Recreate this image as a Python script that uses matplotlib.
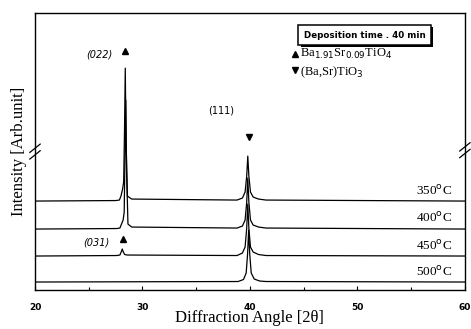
import numpy as np
import matplotlib
matplotlib.use("Agg")
from matplotlib import pyplot as plt
from matplotlib.ticker import MultipleLocator
import matplotlib.patheffects as pe

# titik-titik kurva XRD yang dibaca dari gambar (2theta, intensitas)
temps = ["350$^{\\rm o}$C", "400$^{\\rm o}$C", "450$^{\\rm o}$C", "500$^{\\rm o}$C"]

x_350 = [20, 27.5, 27.85, 28.0, 28.15, 28.25, 28.33, 28.4, 28.47, 28.6, 29.0, 38.8, 39.3, 39.55, 39.7, 39.8, 39.9, 40.05, 40.3, 40.8, 41.5, 60]
y_350 = [89, 89.5, 90, 94, 101, 108, 160, 222, 150, 94, 91, 90, 92, 98, 114, 134, 114, 98, 93, 91, 90, 89]

x_400 = [20, 27.6, 27.9, 28.05, 28.2, 28.3, 28.38, 28.45, 28.52, 28.65, 29.0, 38.8, 39.3, 39.55, 39.7, 39.8, 39.9, 40.05, 40.3, 40.8, 41.5, 60]
y_400 = [61, 61.5, 62, 66, 70, 78, 140, 190, 120, 66, 63, 62, 64, 70, 88, 112, 88, 70, 65, 63, 62, 61]

x_450 = [20, 27.6, 27.9, 28.02, 28.12, 28.22, 28.35, 28.6, 38.8, 39.3, 39.55, 39.7, 39.8, 39.9, 40.05, 40.3, 40.8, 41.5, 60]
y_450 = [34, 34.5, 35, 38, 41, 38, 35.5, 35, 34.5, 37, 43, 62, 86, 62, 43, 38, 35.5, 34.5, 34]

x_500 = [20, 38.9, 39.4, 39.65, 39.78, 39.88, 39.98, 40.12, 40.4, 40.9, 41.5, 60]
y_500 = [8, 8.5, 10.5, 17, 36, 60, 36, 17, 11, 9, 8.5, 8]

xs = [x_350, x_400, x_450, x_500]
ys = [y_350, y_400, y_450, y_500]
baseline = [89, 62, 34, 8]

fig = plt.figure(figsize=(4.71, 3.29), dpi=100)
ax = fig.add_axes([0.0743, 0.1185, 0.9127, 0.8415])

for i in range(4):
    ax.plot(xs[i], ys[i], color="black", lw=0.9)
    ax.text(57.1, baseline[i] + 3.5, temps[i], family="Liberation Serif",
            fontsize=9.5, ha="center", va="bottom")

ax.set_xlim(20, 60)
ax.set_ylim(0, 277)
ax.set_yticks([])
ax.xaxis.set_major_locator(MultipleLocator(10))
ax.xaxis.set_minor_locator(MultipleLocator(5))
ax.tick_params(axis="x", direction="in", length=3, width=0.8, labelsize=6.5, pad=9)
ax.tick_params(axis="x", which="minor", direction="in", length=2, width=0.8)
for lab in ax.get_xticklabels():
    lab.set_fontweight("bold")
for sp in ax.spines.values():
    sp.set_linewidth(1.0)

ax.set_xlabel("Diffraction Angle [2\u03b8]", family="Liberation Serif", fontsize=12, labelpad=-1)
ax.set_ylabel("Intensity [Arb.unit]", family="Liberation Serif", fontsize=12, labelpad=6)

# tanda putus sumbu (//)
for xa, ya in [(0.0, 0.50), (1.0, 0.505)]:
    for dy in [-0.012, 0.012]:
        ax.plot([xa - 0.012, xa + 0.012], [ya + dy - 0.015, ya + dy + 0.015],
                transform=ax.transAxes, color="black", lw=0.9, clip_on=False)

# anotasi puncak
ax.text(26.0, 236, "(022)", fontsize=7, style="italic", ha="center", va="center")
ax.plot(28.4, 239, marker="^", color="black", ms=4.5)
ax.text(37.3, 180, "(111)", fontsize=7, ha="center", va="center")
ax.plot(39.9, 153, marker="v", color="black", ms=4.5)
ax.text(25.7, 48, "(031)", fontsize=7, style="italic", ha="center", va="center")
ax.plot(28.2, 51, marker="^", color="black", ms=4.5)

# kotak keterangan (dengan bayangan)
t = ax.text(45.0, 255, "Deposition time . 40 min", fontsize=6.3, fontweight="bold",
            ha="left", va="center",
            bbox=dict(boxstyle="square,pad=0.6", fc="white", ec="black", lw=1.1))
t.get_bbox_patch().set_path_effects([
    pe.SimplePatchShadow(offset=(1.5, -1.5), shadow_rgbFace="black", alpha=1.0),
    pe.Normal()])
ax.plot(44.2, 236, marker="^", color="black", ms=4)
ax.text(44.7, 236, "Ba$_{1.91}$Sr$_{0.09}$TiO$_4$", family="Liberation Serif",
        fontsize=9, ha="left", va="center")
ax.plot(44.2, 220, marker="v", color="black", ms=4)
ax.text(44.7, 218, "(Ba,Sr)TiO$_3$", family="Liberation Serif",
        fontsize=9, ha="left", va="center")

plt.savefig("out.png", dpi=100)
